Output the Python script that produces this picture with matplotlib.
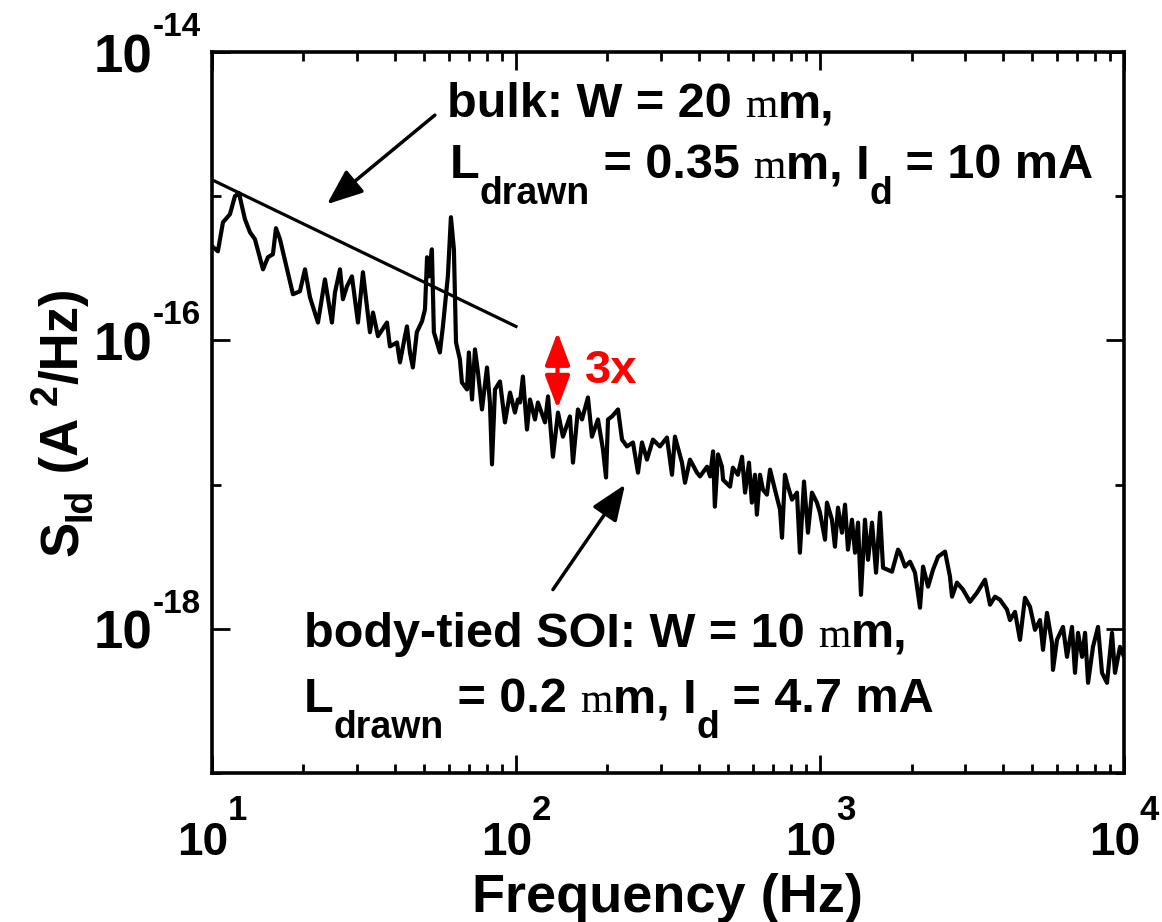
import numpy as np
import matplotlib
matplotlib.use("Agg")
import matplotlib.pyplot as plt
from matplotlib import transforms as mtransforms
from matplotlib.ticker import FixedLocator, LogLocator, NullFormatter

# ---- measured drain-current noise spectrum (body-tied SOI / bulk) ----
freq_hz = [
    10.0, 10.46, 10.87, 11.46, 11.90, 12.27, 12.84, 13.34, 13.85, 14.72,
    15.28, 15.87, 16.24, 16.74, 18.47, 19.47, 20.23, 21.01, 22.32, 23.53,
    24.81, 25.39, 26.37, 26.97, 27.80, 28.87, 30.22, 31.38, 33.09, 33.86,
    35.17, 37.64, 38.50, 40.61, 41.54, 43.14,
    43.8, 44.8, 45.8, 47.2, 49.1, 50.2, 51.0, 51.7, 52.9, 53.7,
    56.2, 57.5, 59.7, 61.1, 62.5, 63.5, 65.4, 66.4, 69.0, 70.0,
    71.7, 73.3, 75.0, 77.3, 80.3, 82.1, 83.4, 85.3, 88.6, 92.0,
    95.6, 99.2, 101.5,
    103.1, 105.4, 108.7, 111.2, 115.5, 118.1, 124.6, 127.5, 132.3, 137.5,
    142.7, 150.5, 154.0, 159.9, 164.9, 172.5, 177.8, 186.1, 193.3, 197.8,
    200.8, 207.0, 216.6, 223.3, 231.8, 242.6, 252.0, 259.7, 269.7, 282.2,
    297.6, 313.8, 326.0, 333.4, 351.6, 359.7, 373.6, 393.9,
    403, 425, 435, 445, 451, 462, 476, 480, 506, 517,
    537, 554, 567, 584, 597, 611, 620, 635, 649, 669,
    685, 711, 739, 750, 767, 785, 809, 840, 859, 886,
    913, 941, 977, 1000, 1039, 1054, 1095, 1120, 1146, 1181,
    1209, 1236, 1274, 1304, 1334, 1364, 1406, 1439, 1483, 1529,
    1576, 1612, 1725, 1806,
    1833, 1904, 1978, 2054, 2133, 2183, 2267, 2354, 2445, 2578,
    2677, 2718, 2823, 2954, 3115, 3284, 3490, 3625, 3765, 3909,
    4122, 4217, 4380, 4549, 4724, 4907, 5096, 5293, 5415, 5581,
    5797, 5840, 6020, 6300, 6494, 6744, 6900, 7060, 7278, 7446,
    7617, 7907, 8213, 8465, 8792, 9130, 9342, 9701, 10000,
]
s_id = [
    4.50e-16, 4.15e-16, 6.59e-16, 7.50e-16, 1.00e-15, 1.05e-15, 6.92e-16, 5.62e-16, 5.03e-16, 3.11e-16,
    3.77e-16, 3.96e-16, 6.00e-16, 5.03e-16, 2.09e-16, 2.19e-16, 3.11e-16, 1.99e-16, 1.33e-16, 2.65e-16,
    1.33e-16, 2.15e-16, 3.11e-16, 1.93e-16, 2.37e-16, 2.78e-16, 1.33e-16, 2.97e-16, 1.14e-16, 1.56e-16,
    1.07e-16, 1.33e-16, 9.09e-17, 9.68e-17, 7.04e-17, 1.07e-16,
    1.25e-16, 8.25e-17, 6.49e-17, 1.14e-16, 1.36e-16, 1.64e-16, 3.77e-16, 2.78e-16, 4.28e-16, 1.14e-16,
    8.25e-17, 1.25e-16, 2.78e-16, 7.15e-16, 4.28e-16, 9.68e-17, 7.38e-17, 5.11e-17, 4.57e-17, 8.25e-17,
    3.89e-17, 8.66e-17, 6.00e-17, 3.32e-17, 6.49e-17, 3.71e-17, 1.38e-17, 4.57e-17, 5.19e-17, 2.70e-17,
    4.35e-17, 3.16e-17, 3.89e-17,
    3.71e-17, 5.62e-17, 2.41e-17, 3.89e-17, 2.83e-17, 3.71e-17, 2.70e-17, 4.09e-17, 1.56e-17, 3.16e-17,
    2.15e-17, 2.97e-17, 1.42e-17, 3.32e-17, 2.83e-17, 4.02e-17, 2.15e-17, 2.83e-17, 1.75e-17, 1.12e-17,
    2.83e-17, 2.97e-17, 3.32e-17, 2.05e-17, 1.84e-17, 1.96e-17, 1.21e-17, 1.96e-17, 1.49e-17, 2.05e-17,
    1.84e-17, 2.12e-17, 1.17e-17, 2.15e-17, 1.42e-17, 1.03e-17, 1.49e-17, 1.21e-17,
    1.14e-17, 1.33e-17, 1.14e-17, 1.70e-17, 7.03e-18, 1.62e-17, 1.33e-17, 1.08e-17, 9.68e-18, 1.31e-17,
    1.17e-17, 1.56e-17, 8.80e-18, 1.42e-17, 7.50e-18, 1.17e-17, 6.19e-18, 1.17e-17, 9.23e-18, 8.52e-18,
    1.27e-17, 9.23e-18, 6.70e-18, 4.28e-18, 1.17e-17, 9.68e-18, 7.87e-18, 8.80e-18, 3.37e-18, 1.05e-17,
    4.64e-18, 8.80e-18, 7.50e-18, 6.39e-18, 4.15e-18, 7.50e-18, 5.71e-18, 3.71e-18, 6.92e-18, 4.64e-18,
    7.26e-18, 3.54e-18, 5.71e-18, 3.37e-18, 5.45e-18, 1.72e-18, 5.71e-18, 3.01e-18, 5.45e-18, 2.45e-18,
    6.39e-18, 2.65e-18, 2.49e-18, 3.54e-18,
    3.37e-18, 2.70e-18, 2.92e-18, 2.45e-18, 1.40e-18, 2.70e-18, 1.96e-18, 2.57e-18, 3.16e-18, 3.43e-18,
    2.30e-18, 1.67e-18, 2.09e-18, 1.87e-18, 1.54e-18, 1.78e-18, 2.19e-18, 1.47e-18, 1.67e-18, 1.59e-18,
    1.36e-18, 1.15e-18, 1.31e-18, 8.39e-19, 1.64e-18, 1.42e-18, 9.84e-19, 1.15e-18, 7.15e-19, 1.29e-18,
    8.00e-19, 5.19e-19, 8.39e-19, 1.03e-18, 6.39e-19, 1.03e-18, 4.95e-19, 9.38e-19, 6.39e-19, 9.38e-19,
    4.22e-19, 7.50e-19, 1.03e-18, 4.95e-19, 4.22e-19, 9.38e-19, 4.95e-19, 7.50e-19, 6.39e-19,
]

# 1/f reference line for the bulk device
bulk_fit_hz = [10, 100]
bulk_fit_s = [1.3e-15, 1.25e-16]

# "3x" bracket between the two spectra
ratio_hz = 137
ratio_s = [3.37e-17, 1.14e-16]

x_major = [1e1, 1e2, 1e3, 1e4]
y_major = [1e-18, 1e-16, 1e-14]
y_minor = [1e-19, 1e-17, 1e-15]

plt.rcParams["font.family"] = ["Liberation Sans", "DejaVu Sans"]
plt.rcParams["font.weight"] = "bold"

fig = plt.figure(figsize=(11.62, 9.22), dpi=100)
ax = fig.add_axes([0.1824, 0.1616, 0.7849, 0.782])

ax.plot(freq_hz, s_id, color="black", lw=3.0, solid_joinstyle="round")
ax.plot(bulk_fit_hz, bulk_fit_s, color="black", lw=2.3)

ax.set_xscale("log")
ax.set_yscale("log")
ax.set_xlim(10, 1e4)
ax.set_ylim(1e-19, 1e-14)

ax.xaxis.set_major_locator(FixedLocator(x_major))
ax.xaxis.set_minor_locator(LogLocator(base=10, subs=np.arange(2, 10)))
ax.yaxis.set_major_locator(FixedLocator(y_major))
ax.yaxis.set_minor_locator(FixedLocator(y_minor))
for axis in (ax.xaxis, ax.yaxis):
    axis.set_major_formatter(NullFormatter())
    axis.set_minor_formatter(NullFormatter())

for sp in ax.spines.values():
    sp.set_linewidth(2.6)
ax.tick_params(which="both", direction="in", top=True, right=True, width=2.0)
ax.tick_params(which="major", length=13)
ax.tick_params(which="minor", length=6.5)

ax.set_xlabel("Frequency (Hz)", fontsize=39, fontweight="bold")
ax.xaxis.set_label_coords(0.5, -0.1928)
ax.xaxis.label.set_va("baseline")

# ---- text built from runs so sub/superscripts sit like the original ----
renderer = fig.canvas.get_renderer()


def advance(text, props):
    a = fig.text(0, 0, "|" + text + "|", **props)
    b = fig.text(0, 0, "||", **props)
    w = a.get_window_extent(renderer).width - b.get_window_extent(renderer).width
    a.remove()
    b.remove()
    return w * 72.0 / fig.dpi


def draw_runs(x, y, runs, rotation=0, color="black", transform=None,
              align="left", dx=0.0, dy=0.0):
    transform = ax.transAxes if transform is None else transform
    th = np.deg2rad(rotation)
    adv = np.array([np.cos(th), np.sin(th)])
    up = np.array([-np.sin(th), np.cos(th)])
    widths = [advance(t, p) for t, p, _ in runs]
    total = sum(widths)
    pen = {"left": 0.0, "center": -total / 2.0, "right": -total}[align]
    for (text, props, shift), w in zip(runs, widths):
        off = adv * pen + up * shift + np.array([dx, dy])
        tr = mtransforms.offset_copy(transform, fig=fig, x=off[0], y=off[1], units="points")
        ax.text(x, y, text, transform=tr, rotation=rotation, rotation_mode="anchor",
                ha="left", va="baseline", clip_on=False, color=color, **props)
        pen += w


# tick labels: 10 with a raised exponent
XT = dict(family="Liberation Sans", weight="bold", size=33)
XE = dict(family="Liberation Sans", weight="bold", size=25)
YT = dict(family="Liberation Sans", weight="bold", size=38)
YE = dict(family="Liberation Sans", weight="bold", size=24)
xtrans = mtransforms.blended_transform_factory(ax.transData, ax.transAxes)
ytrans = mtransforms.blended_transform_factory(ax.transAxes, ax.transData)
for v in x_major:
    e = int(round(np.log10(v)))
    draw_runs(v, 0, [("10", XT, 0), (str(e), XE, 25)], transform=xtrans,
              align="center", dy=-59)
for v in y_major:
    e = int(round(np.log10(v)))
    draw_runs(0, v, [("10", YT, 0), (str(e), YE, 26)], transform=ytrans,
              align="right", dx=-8, dy=-14.4)

BIG = dict(family="Liberation Sans", weight="bold", size=35)
SUB = dict(family="Liberation Sans", weight="bold", size=27)
SERIF = dict(family="Liberation Serif", weight="normal", size=30)
DROP = -19

draw_runs(0.2577, 0.9098, [("bulk: W = 20 ", BIG, 0), ("m", SERIF, 0), ("m,", BIG, 0)])
draw_runs(0.2610, 0.8252, [("L", BIG, 0), ("drawn", SUB, DROP), (" = 0.35 ", BIG, 0),
                           ("m", SERIF, 0), ("m, I", BIG, 0), ("d", SUB, DROP),
                           (" = 10 mA", BIG, 0)])
draw_runs(0.1009, 0.1748, [("body-tied SOI: W = 10 ", BIG, 0), ("m", SERIF, 0), ("m,", BIG, 0)])
draw_runs(0.1009, 0.0846, [("L", BIG, 0), ("drawn", SUB, DROP), (" = 0.2 ", BIG, 0),
                           ("m", SERIF, 0), ("m, I", BIG, 0), ("d", SUB, DROP),
                           (" = 4.7 mA", BIG, 0)])

YL = dict(family="Liberation Sans", weight="bold", size=38)
YS = dict(family="Liberation Sans", weight="bold", size=27)
draw_runs(-0.147, 0.301, [("S", YL, 0), ("Id", YS, -9), (" (A ", YL, 0), ("2", YS, 15),
                          ("/Hz)", YL, 0)], rotation=90)

ax.text(0.409, 0.541, "3x", transform=ax.transAxes, color="red", fontsize=34,
        fontweight="bold", ha="left", va="baseline")

# arrows
ax.annotate("", xy=(23.9, 8.8e-16), xytext=(54.1, 3.65e-15),
            arrowprops=dict(arrowstyle="-|>,head_length=1.0,head_width=0.4",
                            color="black", lw=2.5, mutation_scale=22,
                            shrinkA=0, shrinkB=0))
ax.annotate("", xy=(228.4, 1.0e-17), xytext=(132.3, 1.87e-18),
            arrowprops=dict(arrowstyle="-|>,head_length=1.0,head_width=0.4",
                            color="black", lw=2.5, mutation_scale=22,
                            shrinkA=0, shrinkB=0))
ax.annotate("", xy=(ratio_hz, ratio_s[1]), xytext=(ratio_hz, ratio_s[0]),
            arrowprops=dict(arrowstyle="<|-|>,head_length=1.0,head_width=0.38",
                            color="red", lw=3, mutation_scale=20,
                            shrinkA=0, shrinkB=0))

fig.savefig("out.png", dpi=100)
